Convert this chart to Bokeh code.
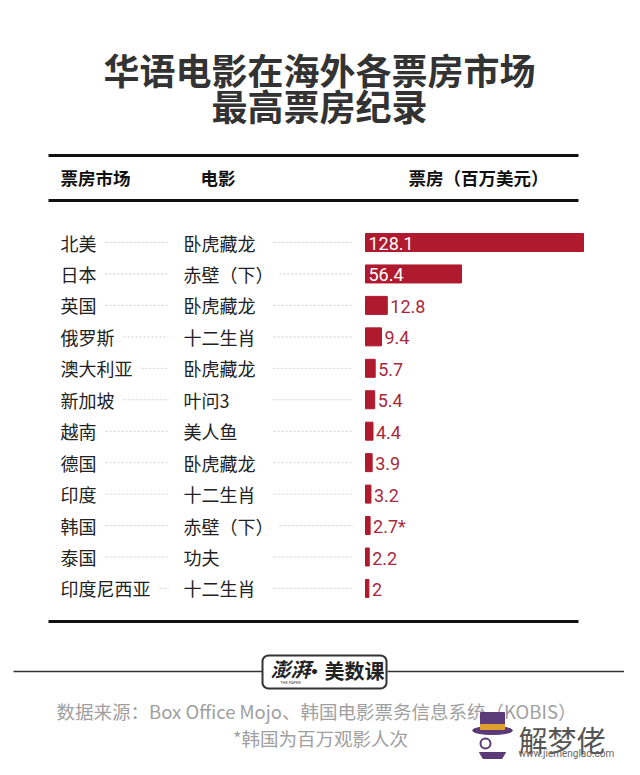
import numpy as np
from bokeh.plotting import figure
from bokeh.models import Range1d
from bokeh.core.properties import value
from bokeh.embed import file_html
from bokeh.resources import INLINE

# ---- data ----
markets = ["北美", "日本", "英国", "俄罗斯", "澳大利亚", "新加坡", "越南", "德国", "印度", "韩国", "泰国", "印度尼西亚"]
films = ["卧虎藏龙", "赤壁（下）", "卧虎藏龙", "十二生肖", "卧虎藏龙", "叶问3", "美人鱼", "卧虎藏龙", "十二生肖", "赤壁（下）", "功夫", "十二生肖"]
box_office = [128.1, 56.4, 12.8, 9.4, 5.7, 5.4, 4.4, 3.9, 3.2, 2.7, 2.2, 2.0]
value_labels = ["128.1", "56.4", "12.8", "9.4", "5.7", "5.4", "4.4", "3.9", "3.2", "2.7*", "2.2", "2"]
headers = ["票房市场", "电影", "票房（百万美元）"]
title_lines = ["华语电影在海外各票房市场", "最高票房纪录"]
source_lines = ["数据来源：Box Office Mojo、韩国电影票务信息系统（KOBIS）", "*韩国为百万观影人次"]

CJK = value("Noto Sans CJK SC")
NUM = value("Roboto")
BAR = "#b01a2e"

W, H = 624, 759
p = figure(width=W, height=H, output_backend="svg", toolbar_location=None,
           x_range=Range1d(0, W), y_range=Range1d(H, 0),
           x_axis_type=None, y_axis_type=None, min_border=0,
           background_fill_color="white", border_fill_color="white")
p.outline_line_color = None
p.grid.visible = False

# value scale: 0 -> x=365, max -> x=583
bar_x0, bar_x1 = 365, 583
span = max(box_office) * W / (bar_x1 - bar_x0)
start = -bar_x0 / W * span
p.extra_x_ranges["val"] = Range1d(start, start + span)

# title
p.text(x=[319, 319], y=[68, 104], text=title_lines, text_font=CJK, text_font_style="bold",
       text_font_size="36px", text_color="#333333", text_align="center", text_baseline="middle")

# rules
p.segment(x0=[48, 48, 48], y0=[155, 200, 621], x1=[578, 578, 578], y1=[155, 200, 621],
          line_color="#111111", line_width=3)

# headers
p.text(x=[60, 200, 408], y=[177] * 3, text=headers, text_font=CJK, text_font_style="bold",
       text_font_size="17.5px", text_color="#111111", text_baseline="middle")

# rows
n = len(markets)
row_y = [242 + i * 31.45 for i in range(n)]
ch = 18
p.text(x=[60] * n, y=row_y, text=markets, text_font=CJK, text_font_size="18px",
       text_color="#222222", text_baseline="middle")
p.text(x=[183] * n, y=row_y, text=films, text_font=CJK, text_font_size="18px",
       text_color="#222222", text_baseline="middle")

# dotted leaders
m_x0 = [60 + len(m) * ch + 9 for m in markets]
f_x0 = [max(273, 183 + len(f) * ch + 6) for f in films]
p.segment(x0=m_x0, y0=row_y, x1=[168] * n, y1=row_y, line_color="#cfcfcf",
          line_width=1, line_dash="2 2")
p.segment(x0=f_x0, y0=row_y, x1=[352] * n, y1=row_y, line_color="#cfcfcf",
          line_width=1, line_dash="2 2")

# bars
p.hbar(y=row_y, left=[0] * n, right=box_office, height=18, color=BAR, x_range_name="val")

inside = [v >= 50 for v in box_office]
in_y = [y for y, f in zip(row_y, inside) if f]
in_t = [t for t, f in zip(value_labels, inside) if f]
out_y = [y for y, f in zip(row_y, inside) if not f]
out_t = [t for t, f in zip(value_labels, inside) if not f]
out_v = [v for v, f in zip(box_office, inside) if not f]
p.text(x=[0] * len(in_y), y=in_y, text=in_t, x_offset=3, y_offset=1, text_font=NUM,
       text_font_size="18px", text_color="white", text_baseline="middle", x_range_name="val")
p.text(x=out_v, y=out_y, text=out_t, x_offset=3, y_offset=1, text_font=NUM,
       text_font_size="18px", text_color="#a8283c", text_baseline="middle", x_range_name="val")

# footer logo (rounded box)
p.segment(x0=[13, 387], y0=[671, 671], x1=[262, 632], y1=[671, 671], line_color="#333333", line_width=1.5)
L, R, T, B, r = 262, 386, 655, 688, 6
xs, ys = [], []
for cx, cy, a0 in [(R - r, T + r, -90), (R - r, B - r, 0), (L + r, B - r, 90), (L + r, T + r, 180)]:
    a = np.radians(np.linspace(a0, a0 + 90, 8))
    xs += [float(v) for v in cx + r * np.cos(a)]
    ys += [float(v) for v in cy + r * np.sin(a)]
p.patch(x=xs, y=ys, fill_color="white", line_color="#333333", line_width=2)
p.text(x=[290], y=[668], text=["澎湃"], text_font=CJK, text_font_style="bold italic", text_font_size="20px",
       text_color="#222222", text_align="center", text_baseline="middle")
p.text(x=[290], y=[682], text=["THE PAPER"], text_font=NUM, text_font_size="4px",
       text_color="#444444", text_align="center", text_baseline="middle")
p.text(x=[344], y=[670], text=["·美数课"], text_font=CJK, text_font_style="bold", text_font_size="20px",
       text_color="#222222", text_align="center", text_baseline="middle")

# source
p.text(x=[316, 320], y=[710, 737], text=source_lines, text_font=CJK, text_font_size="18.5px",
       text_color="#a0a0a0", text_align="center", text_baseline="middle")

# watermark
p.ellipse(x=[492], y=[730], width=[40], height=[8], color="#5b3a78")
p.quad(left=[480], right=[504], top=[712], bottom=[730], color="#5b3a78")
p.quad(left=[480], right=[504], top=[724], bottom=[729], color="#e0a030")
p.circle(x=[485, 499], y=[743], radius=5, fill_color=None, line_color="#5b3a78", line_width=2)
p.patch(x=[479, 505, 499, 492, 485], y=[752, 752, 762, 768, 762], color="#5b3a78")
p.text(x=[518], y=[738], text=["解梦佬"], text_font=CJK, text_font_size="29px",
       text_color="#555555", text_baseline="middle")
p.text(x=[518], y=[753], text=["www.jiemenglao.com"], text_font=NUM, text_font_size="10px",
       text_color="#666666", text_baseline="middle")

open("out.html", "w").write(file_html(p, INLINE))
